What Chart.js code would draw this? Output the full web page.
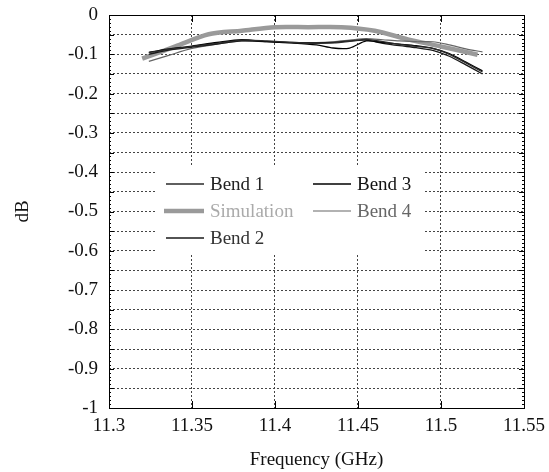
<!DOCTYPE html>
<html>
<head>
<meta charset="utf-8">
<script src="https://cdn.jsdelivr.net/npm/chart.js@4"></script>
<style>
  body { margin: 0; background: #fff; }
</style>
</head>
<body>
<canvas id="bendChart" width="549" height="472"></canvas>
<script>
const bendFreq = [11.324, 11.335, 11.35, 11.365, 11.38, 11.395, 11.41, 11.425, 11.435, 11.445, 11.455, 11.465, 11.475, 11.485, 11.495, 11.505, 11.515, 11.525];
const bend1 = [-0.096, -0.088, -0.080, -0.072, -0.064, -0.066, -0.070, -0.072, -0.071, -0.067, -0.062, -0.068, -0.075, -0.080, -0.085, -0.100, -0.122, -0.145];
const bend2 = [-0.100, -0.090, -0.082, -0.074, -0.066, -0.068, -0.070, -0.071, -0.070, -0.066, -0.064, -0.072, -0.078, -0.083, -0.090, -0.105, -0.127, -0.150];
const bend3 = [-0.095, -0.087, -0.079, -0.070, -0.063, -0.068, -0.071, -0.076, -0.084, -0.084, -0.066, -0.070, -0.074, -0.078, -0.085, -0.098, -0.120, -0.142];
const bend4 = [-0.118, -0.104, -0.085, -0.074, -0.066, -0.067, -0.070, -0.070, -0.068, -0.064, -0.060, -0.063, -0.066, -0.068, -0.068, -0.076, -0.086, -0.094];

const simFreq = [11.32, 11.34, 11.36, 11.38, 11.40, 11.42, 11.44, 11.46, 11.48, 11.50, 11.522];
const simulation = [-0.111, -0.080, -0.049, -0.040, -0.031, -0.031, -0.031, -0.040, -0.062, -0.080, -0.101];

const xTicks = [11.3, 11.35, 11.4, 11.45, 11.5, 11.55];

const serif = "'Liberation Serif', 'Times New Roman', serif";

function pts(xs, ys) {
  return xs.map((x, i) => ({ x: x, y: ys[i] }));
}

// legend drawn inside the plot, two columns, plus frame and inward ticks
const framePlugin = {
  id: 'frame',
  afterDraw(chart) {
    const ctx = chart.ctx;
    const a = chart.chartArea;
    const xs = chart.scales.x, ys = chart.scales.y;
    ctx.save();
    ctx.strokeStyle = '#000';
    ctx.lineWidth = 1;
    ctx.strokeRect(Math.round(a.left) + 0.5, Math.round(a.top) + 0.5, Math.round(a.right - a.left), Math.round(a.bottom - a.top));
    ctx.beginPath();
    xTicks.forEach(v => {
      const px = Math.round(xs.getPixelForValue(v)) + 0.5;
      ctx.moveTo(px, a.bottom); ctx.lineTo(px, a.bottom - 7);
      ctx.moveTo(px, a.top); ctx.lineTo(px, a.top + 7);
    });
    for (let i = 0; i <= 100; i++) {
      const py = Math.round(ys.getPixelForValue(-i / 100)) + 0.5;
      const len = i % 5 === 0 ? 5 : 2;
      ctx.moveTo(a.left, py); ctx.lineTo(a.left + len, py);
      ctx.moveTo(a.right, py); ctx.lineTo(a.right - len, py);
    }
    ctx.stroke();

    // legend
    ctx.fillStyle = '#fff';
    ctx.fillRect(a.left + 48, a.top + 152, 266, 88);
    const items = chart.data.datasets;
    const order = [0, 4, 3, 1, 2];
    ctx.font = '19px ' + serif;
    ctx.textBaseline = 'middle';
    order.forEach((di, k) => {
      const ds = items[di];
      const col = k < 3 ? 0 : 1;
      const row = k < 3 ? k : k - 3;
      const lx = a.left + (col === 0 ? 57 : 204);
      const ly = a.top + 169 + row * 27;
      ctx.strokeStyle = ds.borderColor;
      ctx.lineWidth = ds.borderWidth;
      ctx.beginPath();
      ctx.moveTo(lx - (ds.borderWidth > 2 ? 2 : 0), ly);
      ctx.lineTo(lx + 38, ly);
      ctx.stroke();
      ctx.fillStyle = ds.legendColor;
      ctx.fillText(ds.label, lx + 44, ly + 1);
    });
    ctx.restore();
  }
};

new Chart(document.getElementById('bendChart'), {
  type: 'line',
  data: {
    datasets: [
      { label: 'Bend 1', data: pts(bendFreq, bend1), borderColor: '#2a2a2a', borderWidth: 1.3, legendColor: '#222', order: 1 },
      { label: 'Bend 3', data: pts(bendFreq, bend3), borderColor: '#000', borderWidth: 1.3, legendColor: '#111', order: 1 },
      { label: 'Bend 4', data: pts(bendFreq, bend4), borderColor: '#666', borderWidth: 1.2, legendColor: '#666', order: 2 },
      { label: 'Bend 2', data: pts(bendFreq, bend2), borderColor: '#1a1a1a', borderWidth: 1.3, legendColor: '#333', order: 1 },
      { label: 'Simulation', data: pts(simFreq, simulation), borderColor: '#9a9a9a', borderWidth: 4.5, legendColor: '#aaa', order: 5 }
    ]
  },
  options: {
    responsive: false,
    animation: false,
    layout: { padding: { top: 15, right: 25, left: 0, bottom: 0 } },
    elements: {
      point: { radius: 0 },
      line: { tension: 0.3, fill: false }
    },
    plugins: {
      legend: { display: false },
      tooltip: { enabled: false }
    },
    scales: {
      x: {
        type: 'linear',
        min: 11.3,
        max: 11.55,
        afterBuildTicks: s => { s.ticks = xTicks.map(v => ({ value: v })); },
        afterFit: s => { s.height = 64; s.paddingLeft = 0; s.paddingRight = 0; },
        grid: { color: '#444', drawTicks: false },
        border: { display: false, dash: [2, 2] },
        ticks: {
          padding: 7,
          color: '#111',
          font: { family: serif, size: 19 },
          callback: v => String(Number(v.toFixed(2)))
        },
        title: {
          display: true,
          text: 'Frequency (GHz)',
          color: '#111',
          font: { family: serif, size: 19 },
          padding: { top: 0, bottom: 1 }
        }
      },
      y: {
        min: -1,
        max: 0,
        afterBuildTicks: s => {
          const t = [];
          for (let i = 20; i >= 0; i--) t.push({ value: -i / 20 });
          s.ticks = t;
        },
        afterFit: s => { s.width = 109; s.paddingTop = 0; s.paddingBottom = 0; },
        grid: { color: '#444', drawTicks: false },
        border: { display: false, dash: [2, 2] },
        ticks: {
          padding: 11,
          color: '#111',
          font: { family: serif, size: 19 },
          autoSkip: false,
          callback: v => {
            const h = Math.round(-v * 100);
            return h % 10 === 0 ? String(Math.round(v * 10) / 10) : '';
          }
        },
        title: {
          display: true,
          text: 'dB',
          color: '#111',
          font: { family: serif, size: 19 },
          padding: { top: 12, bottom: 0 }
        }
      }
    }
  },
  plugins: [framePlugin]
});
</script>
</body>
</html>
